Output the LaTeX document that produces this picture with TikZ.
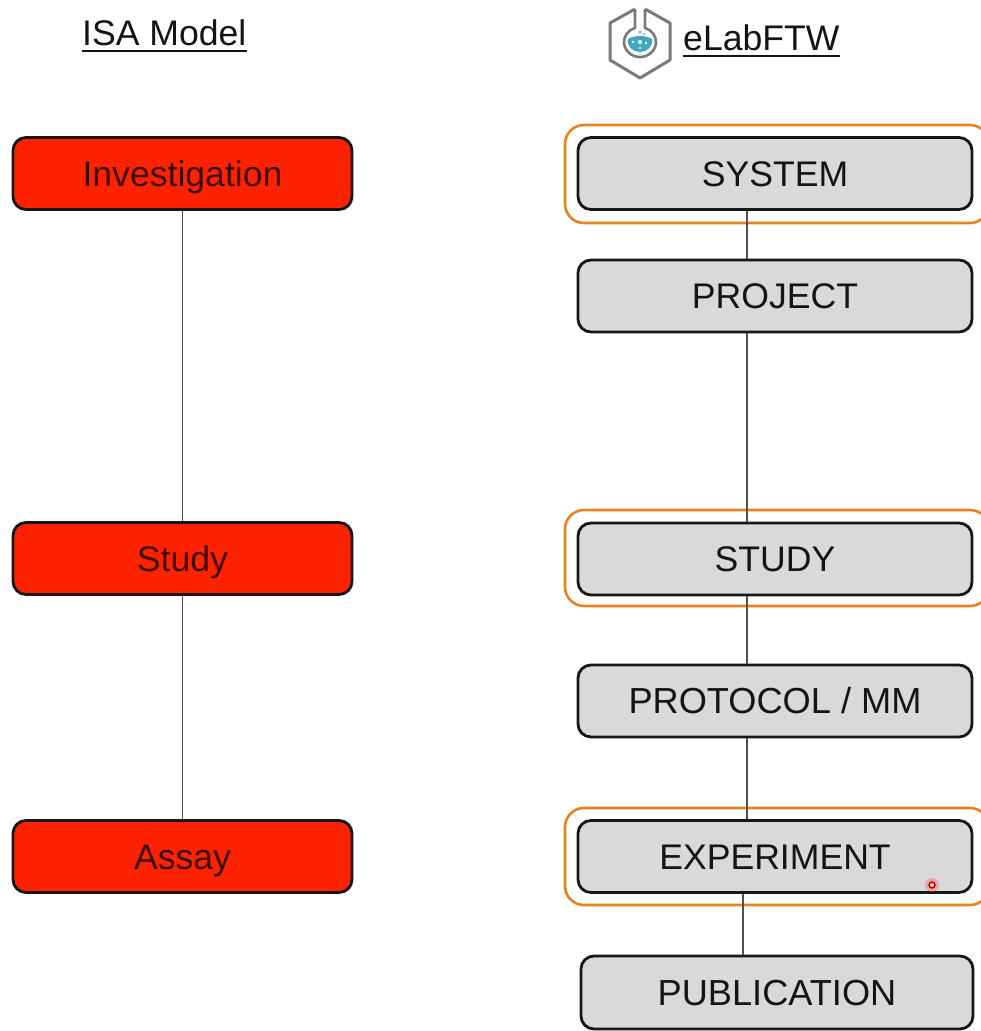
\documentclass[tikz,border=0pt]{standalone}
\usepackage{fontspec}
\setmainfont{Liberation Sans}
\usetikzlibrary{calc}
\definecolor{redfill}{HTML}{FF2200}
\definecolor{redtext}{HTML}{3C0A02}
\definecolor{greyfill}{HTML}{D9D9D9}
\definecolor{boxline}{HTML}{161616}
\definecolor{ringc}{HTML}{E8821E}
\definecolor{linkc}{HTML}{505050}
\definecolor{logoc}{HTML}{7A7A7A}
\definecolor{flaskc}{HTML}{3FA7BF}
\tikzset{
  x=1pt,y=-1pt,
  base box/.style={draw=boxline,line width=2.8pt,rounded corners=13pt,inner sep=0pt,text height=25pt,text depth=0pt,font=\fontsize{35.6}{40}\selectfont},
  redbox/.style={base box,fill=redfill,text=redtext,minimum width=339pt,minimum height=72pt},
  greybox/.style={base box,fill=greyfill,text=black!92,minimum width=394pt,minimum height=72pt},
  widetext/.style={font=\fontsize{36.2}{40}\selectfont},
  ring/.style={draw=ringc,line width=2.6pt,rounded corners=19pt,inner sep=0pt,fill=none},
  link/.style={draw=linkc,line width=1.5pt},
  heading/.style={inner sep=0pt,anchor=base west,text=black!92,font=\fontsize{35.6}{40}\selectfont},
  headrule/.style={draw=black!92,line width=2.4pt},
  logo/.style={draw=logoc,line width=3pt,line join=round},
}
\begin{document}
\begin{tikzpicture}
\useasboundingbox (0,0) rectangle (981,1031);
\clip (0,0) rectangle (981,1031);
\coordinate (rx) at (747,0);
\coordinate (px) at (743,0);

% rings
\node[ring,minimum width=424pt,minimum height=98pt] (ringsys) at (777,174) {};
\node[ring,minimum width=424pt,minimum height=96pt] (ringstudy) at (777,558) {};
\node[ring,minimum width=424pt,minimum height=97pt] (ringexp) at (777,856.5) {};

% left column
\node[redbox] (inv) at (182.5,173.5) {Investigation};
\node[redbox] (study) at (182.5,558.5) {Study};
\node[redbox] (assay) at (182.5,856.5) {Assay};

% right column
\node[greybox] (sys) at (775,173.5) {SYSTEM};
\node[greybox] (proj) at (775,296) {PROJECT};
\node[greybox] (rstudy) at (775,559) {STUDY};
\node[greybox,widetext] (proto) at (775,701) {PROTOCOL / MM};
\node[greybox] (exp) at (775,856.5) {EXPERIMENT};
\node[greybox,widetext,minimum width=392pt,minimum height=73pt] (pub) at (777,992.5) {PUBLICATION};

% connectors
\draw[link] (inv) -- (study);
\draw[link] (study) -- (assay);
\draw[link] (sys.south -| rx) -- (proj.north -| rx);
\draw[link] (proj.south -| rx) -- (rstudy.north -| rx);
\draw[link] (rstudy.south -| rx) -- (proto.north -| rx);
\draw[link] (proto.south -| rx) -- (exp.north -| rx);
\draw[link] (exp.south -| px) -- (pub.north -| px);

% headings
\node[heading] (isa) at (82,45) {ISA Model};
\draw[headrule] ([yshift=-6pt]isa.base west) -- ([yshift=-6pt]isa.base east);
\node[heading] (elab) at (683,50) {eLabFTW};
\draw[headrule] ([yshift=-6pt]elab.base west) -- ([yshift=-6pt]elab.base east);

% logo
\draw[logo] (635,9) -- (610,23) -- (610,60) -- (640,78) -- (670,60) -- (670,23) -- (645,9);
\draw[logo,line width=2.6pt] (635,9) -- (635,28) .. controls (628,30) and (624,36) .. (624,42) .. controls (624,50) and (631,57) .. (640,57) .. controls (649,57) and (656,50) .. (656,42) .. controls (656,36) and (652,30) .. (645,28) -- (645,9);
\fill[flaskc] (628,39) .. controls (634,35) and (646,35) .. (652,39) .. controls (654,46) and (647,52) .. (640,52) .. controls (633,52) and (626,46) .. (628,39) -- cycle;
\fill[white] (640,42) circle (2) (633,42) circle (1.4) (646,43) circle (1.4) (640,48) circle (1.2);
\fill[flaskc] (640,32) circle (1.4) (644,34) circle (1);

% pointer mark
\fill[red!70,opacity=.35] (932,885) circle (7);
\draw[draw=red!70!black,line width=1.4pt,fill=red!25] (932,885) circle (3);
\end{tikzpicture}
\end{document}
